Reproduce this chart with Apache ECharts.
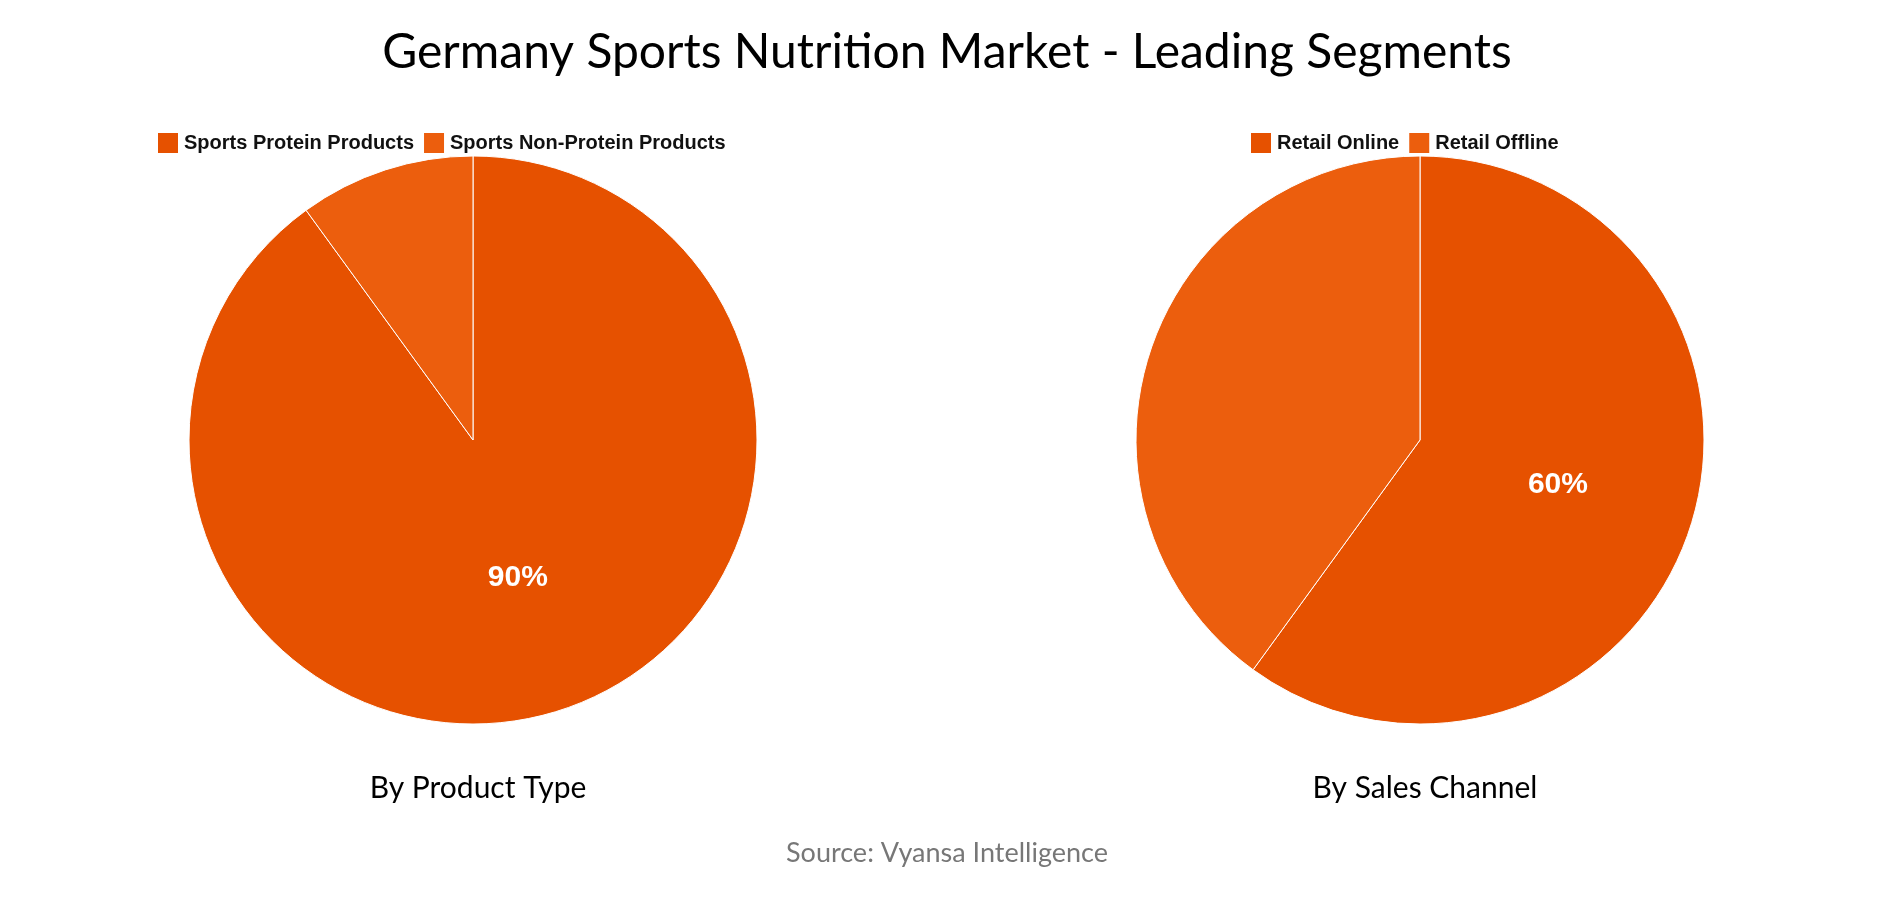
<!DOCTYPE html>
<html style="height: 100%">
<head>
<meta charset="utf-8">
<title>Germany Sports Nutrition Market</title>
<style>
  html, body { margin: 0; height: 100%; background: #fff; }
  #chart { width: 1894px; height: 900px; }
</style>
</head>
<body>
<div id="chart"></div>
<script src="https://cdn.jsdelivr.net/npm/echarts@6/dist/echarts.min.js"></script>
<script>
// data
var productNames = ['Sports Protein Products', 'Sports Non-Protein Products'];
var productValues = [90, 10];
var channelNames = ['Retail Online', 'Retail Offline'];
var channelValues = [60, 40];
var colors = ['#E65100', '#EC5E0D'];

function toData(names, values) {
  return names.map(function (n, i) {
    return { name: n, value: values[i], itemStyle: { color: colors[i] },
      label: { show: i === 0 } };
  });
}

var myChart = echarts.init(document.getElementById('chart'));
var pieBase = {
  type: 'pie',
  radius: 284,
  startAngle: 90,
  clockwise: true,
  silent: true,
  itemStyle: { borderColor: '#fff', borderWidth: 1 },
  label: {
    position: 'inside',
    formatter: '{c}%',
    color: '#fff',
    fontFamily: 'Liberation Sans',
    fontWeight: 'bold',
    fontSize: 30
  },
  labelLine: { show: false }
};

var option = {
  animation: false,
  title: [
    { text: 'Germany Sports Nutrition Market - Leading Segments', left: 'center', top: 24,
      textStyle: { fontFamily: 'Lato', fontWeight: 'normal', fontSize: 48, color: '#000' } },
    { text: 'By Product Type', left: 473, top: 768, textAlign: 'center',
      textStyle: { fontFamily: 'Lato', fontWeight: 'normal', fontSize: 30, color: '#000' } },
    { text: 'By Sales Channel', left: 1420, top: 768, textAlign: 'center',
      textStyle: { fontFamily: 'Lato', fontWeight: 'normal', fontSize: 30, color: '#000' } },
    { text: 'Source: Vyansa Intelligence', left: 'center', top: 835,
      textStyle: { fontFamily: 'Lato', fontWeight: 'normal', fontSize: 27, color: '#777' } }
  ],
  legend: [
    { data: productNames, left: 151, top: 126, itemWidth: 22, itemHeight: 22, itemGap: 8,
      icon: 'rect', selectedMode: false,
      textStyle: { fontFamily: 'Liberation Sans', fontWeight: 'bold', fontSize: 20, color: '#111' } },
    { data: channelNames, left: 1244, top: 126, itemWidth: 22, itemHeight: 22, itemGap: 8,
      icon: 'rect', selectedMode: false,
      textStyle: { fontFamily: 'Liberation Sans', fontWeight: 'bold', fontSize: 20, color: '#111' } }
  ],
  series: [
    Object.assign({}, pieBase, { name: 'Product', center: [473, 440], data: toData(productNames, productValues) }),
    Object.assign({}, pieBase, { name: 'Channel', center: [1420, 440], data: toData(channelNames, channelValues) })
  ]
};
myChart.setOption(option);
</script>
</body>
</html>
